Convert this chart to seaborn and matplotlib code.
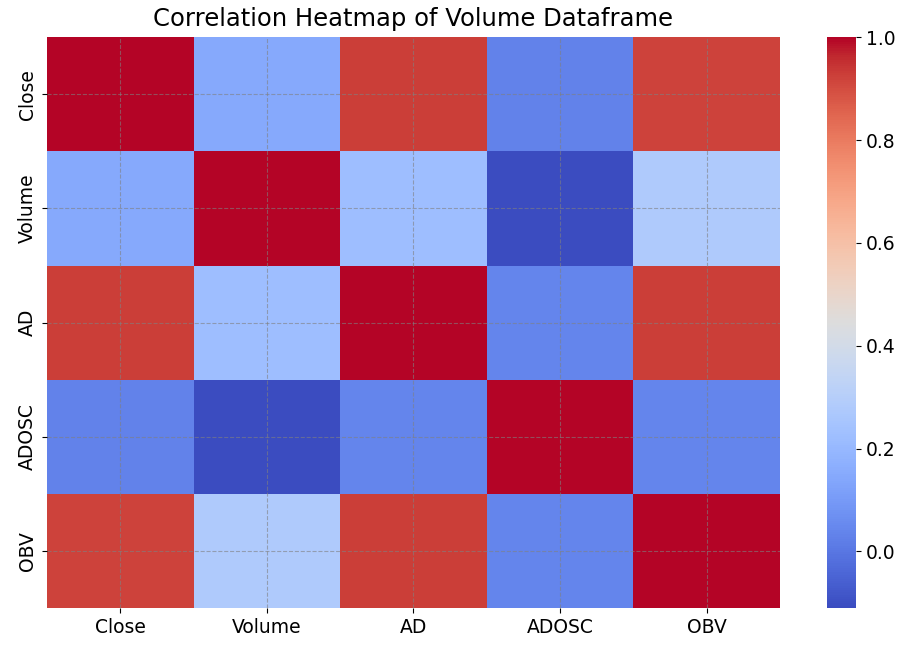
import matplotlib
matplotlib.use("Agg")
import matplotlib.pyplot as plt
import seaborn as sns
import pandas as pd
import numpy as np

labels = ["Close", "Volume", "AD", "ADOSC", "OBV"]
row_close = [1.00, 0.15, 0.93, 0.03, 0.92]
row_volume = [0.15, 1.00, 0.22, -0.11, 0.28]
row_ad = [0.93, 0.22, 1.00, 0.04, 0.93]
row_adosc = [0.03, -0.11, 0.04, 1.00, 0.04]
row_obv = [0.92, 0.28, 0.93, 0.04, 1.00]

corr = pd.DataFrame([row_close, row_volume, row_ad, row_adosc, row_obv],
                    index=labels, columns=labels)

fig = plt.figure(figsize=(9.09, 6.53), dpi=100)
ax = fig.add_axes([0.0517, 0.069, 0.8063, 0.874])
cax = fig.add_axes([0.910, 0.069, 0.032, 0.874])
sns.heatmap(corr, cmap="coolwarm", ax=ax, cbar_ax=cax)
ax.grid(True, linestyle="--", color="gray", alpha=0.6, linewidth=0.8)
ax.set_title("Correlation Heatmap of Volume Dataframe", fontsize=17.5, pad=8)
ax.tick_params(labelsize=13.5)
cax.tick_params(labelsize=13.5)
fig.savefig("out.png", dpi=100)
